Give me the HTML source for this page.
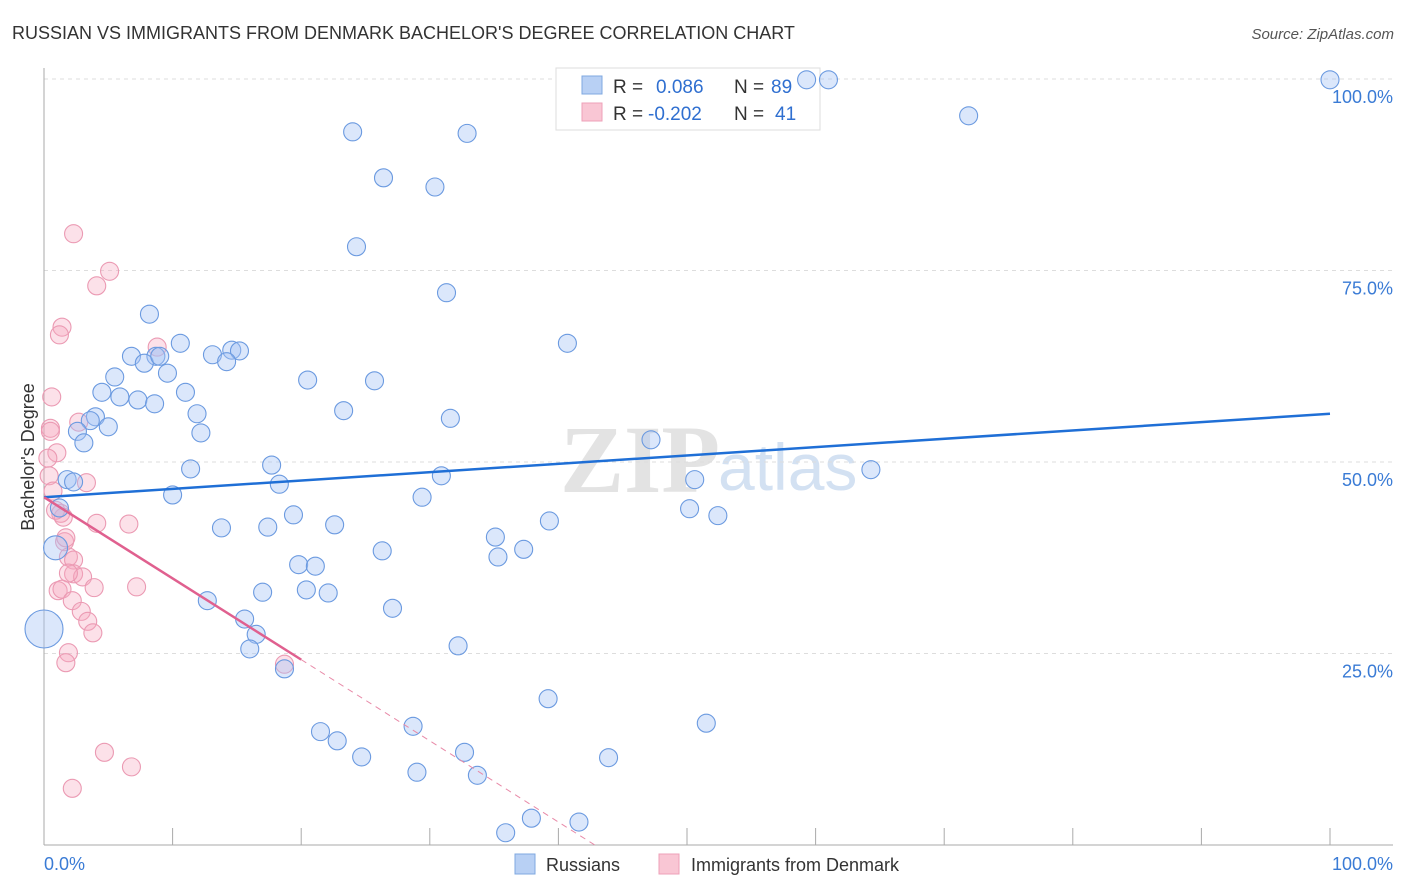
<!DOCTYPE html>
<html><head><meta charset="utf-8"><style>
body{margin:0;background:#fff;font-family:"Liberation Sans",sans-serif;}
</style></head><body>
<svg id="chart" width="1406" height="892" xmlns="http://www.w3.org/2000/svg" style="display:block">
<text x="12" y="39" font-size="18" fill="#333">RUSSIAN VS IMMIGRANTS FROM DENMARK BACHELOR'S DEGREE CORRELATION CHART</text>
<text x="1394" y="39" font-size="15" fill="#555" text-anchor="end" font-style="italic">Source: ZipAtlas.com</text>
<text x="720" y="492" font-size="96" fill="#ddd" text-anchor="end" font-family="Liberation Serif" font-weight="bold" opacity="0.8">ZIP</text>
<text x="718" y="490" font-size="66" fill="#c9daf0" opacity="0.8">atlas</text>
<g id="grid"></g>
<g id="axes"></g>
<g>
<rect x="556" y="68" width="264" height="62" fill="#fff" stroke="#ddd"/>
<rect x="582" y="76" width="20" height="18" fill="#b8d0f4" stroke="#7fa8e0"/>
<rect x="582" y="103" width="20" height="18" fill="#f9c6d4" stroke="#eea0b8"/>
<text x="613" y="93" font-size="19" fill="#333">R =</text>
<text x="656" y="93" font-size="19" fill="#2f6fd0">0.086</text>
<text x="734" y="93" font-size="19" fill="#333">N =</text>
<text x="771" y="93" font-size="19" fill="#2f6fd0">89</text>
<text x="613" y="120" font-size="19" fill="#333">R =</text>
<text x="648" y="120" font-size="19" fill="#2f6fd0">-0.202</text>
<text x="734" y="120" font-size="19" fill="#333">N =</text>
<text x="775" y="120" font-size="19" fill="#2f6fd0">41</text>
</g>
<g id="marks"></g>
<text transform="translate(34,457) rotate(-90)" font-size="18" fill="#333" text-anchor="middle">Bachelor's Degree</text>
<g>
<rect x="515" y="854" width="20" height="20" fill="#b8d0f4" stroke="#7fa8e0"/>
<text x="546" y="871" font-size="18" fill="#333">Russians</text>
<rect x="659" y="854" width="20" height="20" fill="#f9c6d4" stroke="#eea0b8"/>
<text x="691" y="871" font-size="18" fill="#333">Immigrants from Denmark</text>
</g>
</svg>
<script>
const blueX=[100,61.0,59.3,71.9,24.0,32.9,26.4,30.4,24.3,31.3,8.2,40.7,10.6,8.7,6.8,13.1,14.6,15.2,14.2,7.8,9.0,9.6,5.5,20.5,25.7,4.5,11.0,5.9,7.3,8.6,23.3,11.9,31.6,4.0,3.6,5.0,2.6,12.2,3.1,47.2,11.4,17.7,64.3,1.8,2.3,30.9,50.6,18.3,10.0,29.4,1.2,50.2,19.4,52.4,13.8,17.4,22.6,39.3,35.1,26.3,37.3,0.9,35.3,19.8,21.1,17.0,20.4,22.1,12.7,27.1,15.6,16.5,16.0,32.2,18.7,39.2,51.5,21.5,28.7,22.8,24.7,32.7,43.9,29.0,33.7,35.9,37.9,41.6,0];
const blueY=[99.9,99.9,99.9,95.2,93.1,92.9,87.1,85.9,78.1,72.1,69.3,65.5,65.5,63.8,63.8,64.0,64.6,64.5,63.1,62.9,63.8,61.6,61.1,60.7,60.6,59.1,59.1,58.5,58.1,57.6,56.7,56.3,55.7,55.9,55.4,54.6,54.0,53.8,52.5,52.9,49.1,49.6,49.0,47.7,47.4,48.2,47.7,47.1,45.7,45.4,44.0,43.9,43.1,43.0,41.4,41.5,41.8,42.3,40.2,38.4,38.6,38.8,37.6,36.6,36.4,33.0,33.3,32.9,31.9,30.9,29.5,27.5,25.6,26.0,23.0,19.1,15.9,14.8,15.5,13.6,11.5,12.1,11.4,9.5,9.1,1.6,3.5,3.0,28.2];
const blueSize=[10,10,10,10,10,10,10,10,10,10,10,10,10,10,10,10,10,10,10,10,10,10,10,10,10,10,10,10,10,10,10,10,10,10,10,10,10,10,10,10,10,10,10,10,10,10,10,10,10,10,10,10,10,10,10,10,10,10,10,10,10,13,10,10,10,10,10,10,10,10,10,10,10,10,10,10,10,10,10,10,10,10,10,10,10,10,10,10,20];
const pinkX=[2.3,5.1,4.1,1.4,1.2,8.8,0.6,0.5,0.5,1.0,0.3,0.4,0.7,3.3,2.7,1.6,1.3,1.5,4.1,6.6,1.7,1.9,2.3,2.3,3.0,1.9,1.1,1.4,2.2,2.9,3.4,3.9,7.2,3.8,1.9,1.7,4.7,6.8,2.2,18.7,0.9];
const pinkY=[79.8,74.9,73.0,67.6,66.6,65.0,58.5,54.4,54.0,51.2,50.5,48.2,46.2,47.3,55.2,39.6,43.3,42.8,42.0,41.9,40.1,37.6,37.2,35.4,35.0,35.5,33.2,33.4,31.9,30.5,29.2,33.6,33.7,27.7,25.1,23.8,12.1,10.2,7.4,23.6,43.7];
const blueFit=[45.4,0.109];
const pinkFit=[45.4,-1.06];
const yTicks=[25,50,75,100];
const xTickVals=[0,10,20,30,40,50,60,70,80,90,100];

const NS="http://www.w3.org/2000/svg";
const X=v=>44+v*12.86;
const Y=v=>845-v*7.66;
function mk(tag,attrs,parent){const e=document.createElementNS(NS,tag);for(const k in attrs)e.setAttribute(k,attrs[k]);parent.appendChild(e);return e;}
const grid=document.getElementById('grid'),axes=document.getElementById('axes'),marks=document.getElementById('marks');
yTicks.forEach(t=>{
 const l=mk('line',{x1:44,x2:1393,y1:Y(t),y2:Y(t),stroke:'#ddd','stroke-dasharray':'4,4'},grid);
 
 
 const tx=mk('text',{x:1393,y:Y(t)+24,'font-size':18,fill:'#3a7bd5','text-anchor':'end'},grid);
 tx.textContent=t.toFixed(1)+'%';
 
 
});
const ax=mk('line',{x1:44,x2:1393,y1:845,y2:845,stroke:'#aaa'},axes);


const ay=mk('line',{x1:44,x2:44,y1:68,y2:845,stroke:'#aaa'},axes);


xTickVals.forEach(t=>{
 const l=mk('line',{x1:X(t),x2:X(t),y1:828,y2:845,stroke:'#aaa'},axes);
 
 
});
const xl0=mk('text',{x:44,y:870,'font-size':18,fill:'#3a7bd5'},axes);xl0.textContent='0.0%';


const xl1=mk('text',{x:1393,y:870,'font-size':18,fill:'#3a7bd5','text-anchor':'end'},axes);xl1.textContent='100.0%';



pinkX.forEach((v,i)=>{
 const c=mk('circle',{cx:X(v),cy:Y(pinkY[i]),r:9,fill:'rgba(246,170,192,0.35)',stroke:'#eb9ab3','stroke-width':1.1},marks);
 
 
});
blueX.forEach((v,i)=>{
 const c=mk('circle',{cx:X(v),cy:Y(blueY[i]),r:blueSize[i]-1,fill:'rgba(164,196,244,0.4)',stroke:'#6b9ae0','stroke-width':1.1},marks);
 
 
});
const bl=mk('line',{x1:X(0),y1:Y(blueFit[0]),x2:X(100),y2:Y(blueFit[0]+blueFit[1]*100),stroke:'#1f6fd6','stroke-width':2.5},marks);


const pl=mk('line',{x1:X(0),y1:Y(pinkFit[0]),x2:X(20),y2:Y(pinkFit[0]+pinkFit[1]*20),stroke:'#e0608f','stroke-width':2.5},marks);


const xz=-pinkFit[0]/pinkFit[1];
const pd=mk('line',{x1:X(20),y1:Y(pinkFit[0]+pinkFit[1]*20),x2:X(xz),y2:Y(0),stroke:'#e88aa8','stroke-width':1,'stroke-dasharray':'6,5'},marks);


</script>
</body></html>
